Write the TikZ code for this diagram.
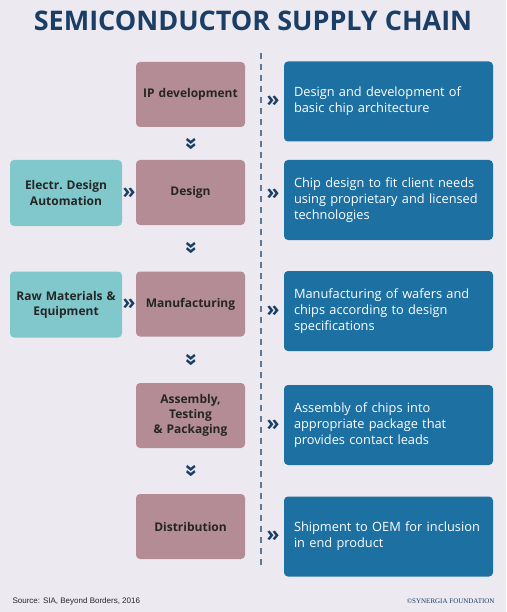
\documentclass[tikz,border=0pt]{standalone}
\usepackage{fontspec}
\setmainfont{Open Sans}
\newfontfamily\footfont{Liberation Sans}
\newfontfamily\markfont{Liberation Serif}
\usetikzlibrary{positioning}
\definecolor{navy}{HTML}{1A3E66}
\definecolor{mauve}{HTML}{B38C95}
\definecolor{teal}{HTML}{80C8CC}
\definecolor{steel}{HTML}{1D70A2}
\definecolor{backdrop}{HTML}{ECEAF0}
\tikzset{gbox/.style={
    rectangle,
    rounded corners=4pt,
    align=center,
    inner sep=2pt,
    font=\fontsize{12}{15}\selectfont\bfseries,
    text=black!85
  },
  stagebox/.style={gbox,fill=mauve,minimum width=109pt,minimum height=65pt,text width=100pt},
  inputbox/.style={gbox,fill=teal,minimum width=112pt,minimum height=66pt,text width=106pt},
  descbox/.style={gbox,fill=steel,text=white,align=left,
    font=\fontsize{12.8}{16}\selectfont,
    minimum width=209pt,minimum height=80pt,text width=189pt,inner xsep=10pt},
  chev/.style={inner sep=0pt,text=navy,font=\fontsize{21}{21}\selectfont\bfseries},
  dchev/.style={chev,rotate=-90},
}
\begin{document}
\begin{tikzpicture}[x=1pt,y=-1pt]
  \fill[backdrop] (0,0) rectangle (506,612);
  \useasboundingbox (0,0) rectangle (506,612);
  \node[text=navy,font=\fontsize{27}{32}\selectfont\bfseries] (title) at (253,21) {SEMICONDUCTOR SUPPLY CHAIN};
  \coordinate (top) at (261,53);
  \coordinate (bottom) at (261,566);
  \draw[navy!70,line width=1.1pt,dash pattern=on 6pt off 5pt] (top) -- (bottom);

  \node[stagebox] (ipdev) at (190.5,94.5) {IP development};
  \node[stagebox] (design) at (190.5,192.5) {Design};
  \node[stagebox] (manuf) at (190.5,304) {Manufacturing};
  \node[stagebox] (assembly) at (190.5,415.5) {Assembly,\\ Testing\\ \& Packaging};
  \node[stagebox] (distrib) at (190.5,526.5) {Distribution};

  \node[inputbox] (eda) at (66,193) {Electr.\ Design\\ Automation};
  \node[inputbox] (rawmat) at (66,304.5) {Raw Materials \&\\ Equipment};

  \node[descbox] (ipdesc) at (388.5,101.5) {Design and development of\\ basic chip architecture};
  \node[descbox] (designdesc) at (388.5,200) {Chip design to fit client needs\\ using proprietary and licensed\\ technologies};
  \node[descbox] (manufdesc) at (388.5,311) {Manufacturing of wafers and\\ chips according to design\\ specifications};
  \node[descbox] (assemblydesc) at (388.5,425) {Assembly of chips into\\ appropriate package that\\ provides contact leads};
  \node[descbox] (distribdesc) at (388.5,536.5) {Shipment to OEM for inclusion\\ in end product};

  \path (eda) -- node[chev] {»} (design);
  \path (rawmat) -- node[chev] {»} (manuf);
  \node[chev,left=4pt of ipdesc.west] (ipchev) {»};
  \node[chev,left=4pt of designdesc.west,yshift=6pt] (designchev) {»};
  \node[chev,left=4pt of manufdesc.west] (manufchev) {»};
  \node[chev,left=4pt of assemblydesc.west] (assemblychev) {»};
  \node[chev,left=4pt of distribdesc.west] (distribchev) {»};
  \path (ipdev.south) -- node[dchev] {»} (design.north);
  \path (design.south) -- node[dchev] {»} (manuf.north);
  \path (manuf.south) -- node[dchev] {»} (assembly.north);
  \path (assembly.south) -- node[dchev] {»} (distrib.north);

  \node[anchor=west,font=\footfont\fontsize{8}{10}\selectfont,text=black!85] (source) at (9,601) {Source: SIA, Beyond Borders, 2016};
  \node[anchor=east,font=\markfont\fontsize{7}{9}\selectfont,text=navy] (credit) at (498,601) {©SYNERGIA FOUNDATION};
\end{tikzpicture}
\end{document}
